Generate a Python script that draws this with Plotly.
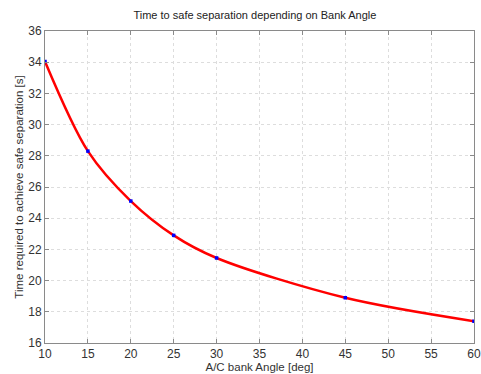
import plotly.graph_objects as go

bank_angle = [10, 15, 20, 25, 30, 45, 60]
time_sep = [34.05, 28.3, 25.1, 22.9, 21.45, 18.9, 17.4]

x_ticks = [10, 15, 20, 25, 30, 35, 40, 45, 50, 55, 60]
y_ticks = [16, 18, 20, 22, 24, 26, 28, 30, 32, 34, 36]

fig = go.Figure()
fig.add_trace(go.Scatter(
    x=bank_angle, y=time_sep, mode="lines",
    line=dict(color="#ff0000", width=2.5, shape="spline", smoothing=0.9),
    showlegend=False, hoverinfo="skip"))
fig.add_trace(go.Scatter(
    x=bank_angle, y=time_sep, mode="markers",
    marker=dict(color="#0000ff", size=3.5, symbol="square"),
    showlegend=False))

axis_common = dict(
    showline=True, linecolor="#8a8a8a", linewidth=1, mirror="ticks",
    ticks="inside", ticklen=4, tickcolor="#8a8a8a",
    showgrid=True, gridcolor="#dddddd", griddash="dot", gridwidth=1,
    zeroline=False, automargin=False,
    tickfont=dict(family="Liberation Sans, Arial, sans-serif", size=12, color="#333333"),
    title_font=dict(family="Liberation Sans, Arial, sans-serif", size=11.5, color="#333333"),
)

fig.update_layout(
    width=481, height=374,
    margin=dict(l=45, r=7, t=31, b=31),
    paper_bgcolor="white", plot_bgcolor="white",
    title=dict(text="Time to safe separation depending on Bank Angle",
               x=0.53, xanchor="center", y=0.96, yanchor="middle",
               font=dict(family="Liberation Sans, Arial, sans-serif", size=11, color="#222222")),
    xaxis=dict(range=[10, 60], tickvals=x_ticks,
               title=dict(text="A/C bank Angle [deg]", standoff=0), **axis_common),
    yaxis=dict(range=[16, 36], tickvals=y_ticks,
               title=dict(text="Time required to achieve safe separation [s]", standoff=2), **axis_common),
)

fig.write_html("out.html")
